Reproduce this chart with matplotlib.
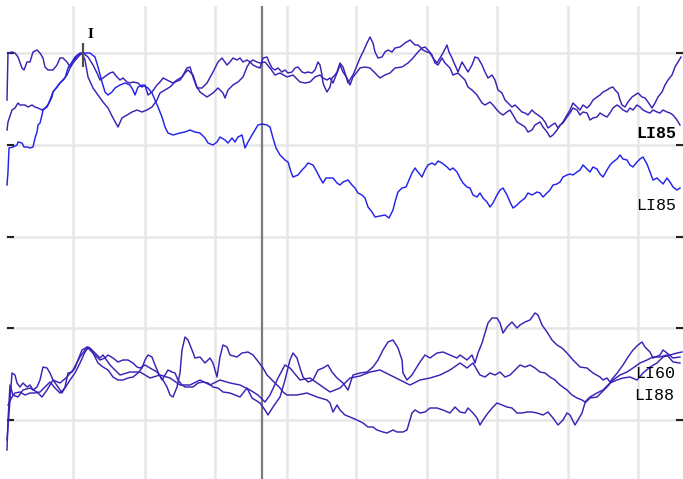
import matplotlib
matplotlib.use("Agg")
import matplotlib.pyplot as plt

# ---- data: (sample, amplitude) traces ----
top_a = [(7,380),(8,427),(12,428),(15,427),(18,423),(22,412),(24,410),(27,418),(30,418),(33,428),(37,430),(40,427),(43,422),(45,413),(48,410),(53,410),(57,415),(60,422),(63,422),(67,418),(70,413),(73,418),(78,425),(83,427),(88,423),(93,415),(97,407),(100,400),(103,402),(107,405),(110,407),(113,408),(117,403),(120,400),(123,402),(127,398),(130,397),(133,398),(138,397),(142,393),(145,395),(148,385),(152,388),(157,395),(160,398),(163,402),(167,400),(173,397),(177,400),(182,403),(187,412),(190,413),(193,403),(197,392),(202,392),(207,397),(213,408),(218,418),(222,422),(227,415),(230,418),(233,422),(237,420),(240,422),(243,418),(247,420),(250,418),(253,415),(257,413),(260,412),(263,422),(267,423),(269,418),(272,412),(275,410),(278,412),(282,408),(285,410),(288,407),(292,408),(295,412),(298,413),(302,408),(305,407),(308,408),(312,407),(315,410),(318,418),(320,415),(322,405),(323,397),(325,392),(327,388),(330,393),(332,402),(335,405),(337,408),(340,417),(343,413),(345,407),(348,397),(351,402),(353,405),(356,412),(360,422),(363,428),(367,437),(370,443),(373,437),(375,428),(378,422),(382,423),(385,428),(388,430),(392,428),(395,432),(400,433),(405,437),(410,440),(415,435),(418,435),(423,430),(427,428),(430,427),(433,422),(437,417),(440,422),(443,427),(447,435),(449,428),(452,422),(455,415),(458,408),(462,418),(465,413),(468,408),(472,415),(475,423),(478,422),(482,415),(485,408),(488,402),(492,405),(495,400),(498,390),(502,387),(505,380),(508,377),(512,373),(515,375),(518,372),(522,368),(525,367),(528,365),(532,370),(535,367),(538,365),(542,362),(545,358),(548,352),(552,355),(555,357),(558,352),(563,358),(567,365),(570,370),(573,377),(577,373),(580,370),(583,375),(587,372),(590,375),(593,380),(597,383),(600,385),(603,388),(607,390),(610,392),(613,393),(615,390),(618,387),(620,380),(622,375),(625,373),(628,378),(632,383),(635,385),(638,387),(642,383),(645,382),(648,378),(652,372),(655,377),(658,383),(662,388),(665,395),(668,400),(672,405),(675,413),(678,418),(681,423)]

top_b = [(7,350),(8,358),(12,370),(15,372),(18,377),(20,375),(25,375),(28,373),(32,375),(35,373),(38,372),(42,370),(45,372),(48,375),(52,383),(53,388),(57,393),(60,397),(63,400),(67,405),(70,412),(73,417),(78,423),(82,427),(85,420),(88,403),(93,392),(98,385),(103,378),(108,372),(113,362),(118,353),(122,362),(127,365),(132,368),(137,370),(142,368),(147,370),(152,373),(157,380),(160,387),(165,390),(170,393),(175,398),(180,400),(185,407),(188,410),(193,405),(197,393),(200,388),(207,383),(213,387),(218,392),(223,387),(225,382),(228,390),(233,395),(238,398),(243,403),(247,413),(250,418),(253,420),(257,418),(260,417),(265,418),(270,412),(275,405),(280,407),(287,403),(293,405),(300,398),(305,397),(310,398),(315,403),(320,405),(323,402),(327,400),(330,402),(333,397),(337,407),(340,415),(343,408),(347,402),(350,395),(353,403),(357,408),(360,412),(365,413),(370,412),(375,407),(380,402),(385,405),(390,407),(395,412),(402,413),(408,417),(413,422),(418,428),(422,432),(425,433),(428,430),(432,425),(435,417),(438,415),(442,422),(445,417),(450,412),(453,405),(458,407),(462,403),(465,400),(468,393),(472,390),(477,385),(482,377),(485,375),(490,378),(493,375),(497,370),(500,367),(503,365),(507,368),(510,370),(513,365),(517,358),(522,355),(525,353),(528,348),(532,350),(535,355),(540,358),(543,353),(547,348),(550,343),(553,345),(557,350),(560,355),(563,357),(567,363),(570,367),(573,372),(577,370),(580,365),(583,368),(587,367),(590,360),(593,362),(597,363),(600,367),(603,365),(607,363),(610,367),(613,372),(617,375),(620,373),(623,370),(627,368),(630,372),(633,370),(637,375),(640,373),(643,370),(647,368),(650,367),(653,370),(657,368),(660,367),(663,370),(667,368),(670,367),(673,365),(677,360),(680,355)]

top_c = [(7,295),(8,308),(9,332),(13,333),(17,335),(18,338),(22,337),(24,333),(27,333),(30,332),(33,333),(35,342),(37,348),(38,355),(40,357),(42,365),(43,370),(47,373),(50,380),(53,388),(57,393),(60,397),(65,402),(68,412),(72,418),(75,423),(80,427),(85,427),(90,427),(95,423),(98,413),(102,398),(105,388),(108,385),(112,388),(115,392),(120,395),(125,397),(130,395),(133,390),(135,385),(138,393),(143,395),(148,392),(152,387),(155,380),(158,373),(162,363),(165,353),(168,347),(173,345),(180,347),(185,348),(190,350),(195,348),(200,347),(205,342),(208,337),(213,335),(217,338),(220,343),(225,340),(228,337),(232,342),(235,338),(238,343),(242,345),(245,332),(248,338),(252,345),(255,350),(258,355),(262,356),(267,355),(270,353),(273,342),(276,332),(280,325),(285,320),(288,318),(291,308),(293,303),(298,305),(302,310),(305,313),(308,317),(313,315),(317,308),(320,302),(323,297),(326,302),(330,302),(333,302),(337,297),(340,295),(343,298),(348,300),(352,295),(355,292),(358,287),(362,285),(365,282),(368,273),(372,268),(375,263),(380,264),(385,265),(389,262),(393,270),(395,278),(398,288),(402,292),(406,293),(409,300),(412,307),(415,312),(418,308),(422,303),(425,310),(428,315),(432,317),(435,315),(438,319),(442,317),(447,313),(450,310),(453,312),(457,308),(460,302),(463,297),(467,293),(470,292),(473,285),(477,283),(480,287),(483,282),(487,278),(490,273),(493,277),(497,285),(500,290),(503,292),(507,285),(510,278),(513,272),(517,275),(520,278),(525,282),(528,287),(532,285),(537,288),(540,287),(543,283),(547,287),(550,290),(553,295),(557,296),(560,298),(563,303),(567,305),(570,306),(573,305),(577,308),(580,310),(583,315),(587,311),(590,308),(593,313),(597,311),(600,306),(603,303),(607,310),(610,315),(613,318),(617,321),(620,325),(623,321),(627,320),(630,315),(633,313),(637,318),(640,321),(643,323),(647,316),(650,308),(653,300),(657,302),(660,299),(663,296),(667,302),(670,298),(673,293),(677,290),(680,292)]

bot_a = [(7,30),(8,60),(10,95),(13,85),(18,83),(23,90),(30,92),(37,88),(42,83),(47,90),(53,100),(60,97),(67,103),(73,110),(80,123),(85,130),(88,133),(93,127),(98,117),(103,113),(108,110),(113,103),(118,100),(123,100),(128,102),(133,103),(138,107),(142,112),(145,120),(148,125),(152,123),(155,115),(158,108),(162,100),(165,105),(168,110),(172,108),(175,107),(178,100),(182,95),(185,93),(193,93),(198,97),(203,98),(208,97),(213,93),(218,92),(223,88),(230,87),(240,83),(247,92),(252,82),(260,77),(265,70),(268,65),(273,73),(280,83),(285,100),(290,120),(293,127),(297,122),(300,112),(303,103),(308,98),(313,100),(318,110),(323,112),(328,115),(332,108),(337,102),(343,97),(348,90),(353,105),(360,107),(367,108),(373,113),(378,120),(383,130),(388,138),(393,140),(398,132),(402,120),(403,107),(407,100),(412,105),(415,110),(420,118),(425,125),(430,122),(437,127),(443,128),(450,125),(457,122),(460,125),(467,120),(472,125),(475,117),(478,127),(482,137),(485,147),(488,157),(492,162),(497,162),(500,157),(503,147),(507,153),(512,158),(517,152),(520,155),(525,158),(530,160),(535,167),(538,165),(542,155),(547,148),(552,140),(557,135),(562,132),(567,127),(573,120),(580,113),(587,112),(593,107),(600,103),(603,100),(607,102),(610,98),(613,102),(618,108),(623,115),(628,123),(633,130),(638,135),(642,138),(645,133),(650,128),(653,122),(660,125),(663,130),(667,127),(673,122),(680,123)]

bot_b = [(8,75),(12,83),(15,87),(20,88),(25,85),(30,87),(35,87),(40,88),(45,93),(50,98),(55,92),(60,87),(65,92),(70,100),(75,107),(80,117),(85,128),(88,132),(95,125),(100,120),(105,122),(108,125),(113,122),(118,118),(123,120),(128,120),(133,117),(137,113),(140,112),(145,115),(150,112),(157,108),(163,100),(167,93),(170,85),(173,83),(177,93),(180,107),(182,130),(185,143),(188,140),(192,130),(195,122),(200,123),(205,117),(210,122),(213,117),(217,103),(220,123),(223,135),(227,133),(230,125),(237,123),(242,127),(248,128),(253,125),(257,120),(263,112),(267,105),(272,100),(280,92),(283,88),(287,85),(297,85),(307,87),(317,83),(327,80),(330,77),(333,68),(337,75),(340,70),(345,65),(350,63),(357,60),(363,57),(368,53),(373,53),(377,50),(383,48),(387,47),(393,50),(397,48),(403,48),(407,50),(412,67),(415,70),(420,67),(425,68),(430,72),(437,72),(443,70),(450,67),(455,73),(460,68),(465,67),(468,72),(473,67),(477,62),(480,55),(483,60),(488,67),(493,73),(497,77),(502,75),(507,73),(512,72),(517,67),(522,67),(527,68),(532,68),(537,67),(543,65),(548,68),(553,62),(558,55),(563,60),(567,67),(570,65),(575,55),(578,60),(582,67),(585,77),(590,82),(597,83),(602,88),(607,93),(613,100),(620,105),(627,108),(633,112),(640,117),(647,120),(653,123),(660,123),(667,125),(673,118),(680,117)]

bot_c = [(7,40),(8,53),(10,80),(12,107),(15,105),(17,97),(20,93),(23,97),(27,93),(30,95),(33,90),(37,93),(40,100),(43,113),(47,112),(50,107),(53,100),(58,93),(62,87),(65,93),(68,107),(72,108),(75,112),(78,120),(82,130),(87,133),(90,132),(95,127),(100,122),(103,125),(110,115),(120,105),(130,108),(140,108),(150,102),(160,105),(170,102),(180,95),(190,95),(200,100),(210,95),(220,100),(230,97),(240,95),(250,90),(258,85),(265,78),(270,85),(278,102),(285,115),(290,112),(300,100),(310,102),(320,95),(330,88),(340,92),(350,102),(360,104),(370,108),(380,110),(390,105),(400,100),(410,95),(420,100),(430,102),(440,105),(450,110),(460,117),(467,112),(473,117),(477,110),(480,105),(485,103),(490,107),(495,105),(500,108),(505,103),(510,105),(515,110),(520,115),(525,113),(530,115),(535,112),(540,108),(545,107),(550,103),(555,100),(560,95),(567,90),(572,85),(577,82),(582,80),(585,78),(590,83),(597,87),(603,90),(610,97),(617,100),(623,102),(630,103),(637,100),(643,107),(650,113),(657,117),(663,123),(670,125),(677,127),(682,128)]

trace_labels = ["LI85", "LI85", "LI60", "LI88"]
cursor_label = "I"

# ---- styling / layout ----
INDIGO = "#3b22b5"
BLUE = "#2323ea"
GRID = "#e6e6e6"

fig = plt.figure(figsize=(6.83, 4.79), dpi=100, facecolor="white")
ax = fig.add_axes([0, 0, 1, 473 / 479])
ax.set_facecolor("white")
ax.set_xlim(0, 683)
ax.set_ylim(1, 474)

grid_x = [73, 145, 215, 287, 356, 427, 497, 568, 638]
grid_y = [60, 152, 243, 335, 427]
for gx in grid_x:
    ax.axvline(gx, color=GRID, lw=1.8, zorder=0)
for gy in grid_y:
    ax.axhline(gy, xmin=7 / 683, color=GRID, lw=1.8, zorder=0)
ax.axvline(262, color="#7c7c7c", lw=1.6, zorder=1)

for s in ax.spines.values():
    s.set_visible(False)
ax.spines["left"].set_position(("data", 7))
ax.set_xticks([])
ax.set_yticks(grid_y)
ax.yaxis.set_ticks_position("both")
ax.tick_params(axis="y", direction="in", length=5, width=1.5, color="#222222",
               labelleft=False, labelright=False)

def draw(trace, color):
    xs, ys = zip(*trace)
    ax.plot(xs, ys, color=color, lw=1.05, zorder=3, solid_joinstyle="round")

draw(top_a, INDIGO)
draw(top_b, INDIGO)
draw(top_c, BLUE)
draw(bot_a, INDIGO)
draw(bot_b, INDIGO)
draw(bot_c, INDIGO)

font = "Liberation Mono"
ax.text(656, 347, trace_labels[0], family=font, fontweight="bold", fontsize=12,
        ha="center", va="center", color="black", zorder=5)
ax.text(656, 275, trace_labels[1], family=font, fontsize=12,
        ha="center", va="center", color="black", zorder=5)
ax.text(655, 106, trace_labels[2], family=font, fontsize=12,
        ha="center", va="center", color="black", zorder=5)
ax.text(654, 85, trace_labels[3], family=font, fontsize=12,
        ha="center", va="center", color="black", zorder=5)

ax.vlines(83, 413, 437, color="#505050", lw=1.6, zorder=4)
ax.text(90, 445, cursor_label, family="Liberation Serif", fontweight="bold",
        fontsize=11, ha="center", va="center", color="black", zorder=5)

fig.savefig("out.png", dpi=100, facecolor="white")
